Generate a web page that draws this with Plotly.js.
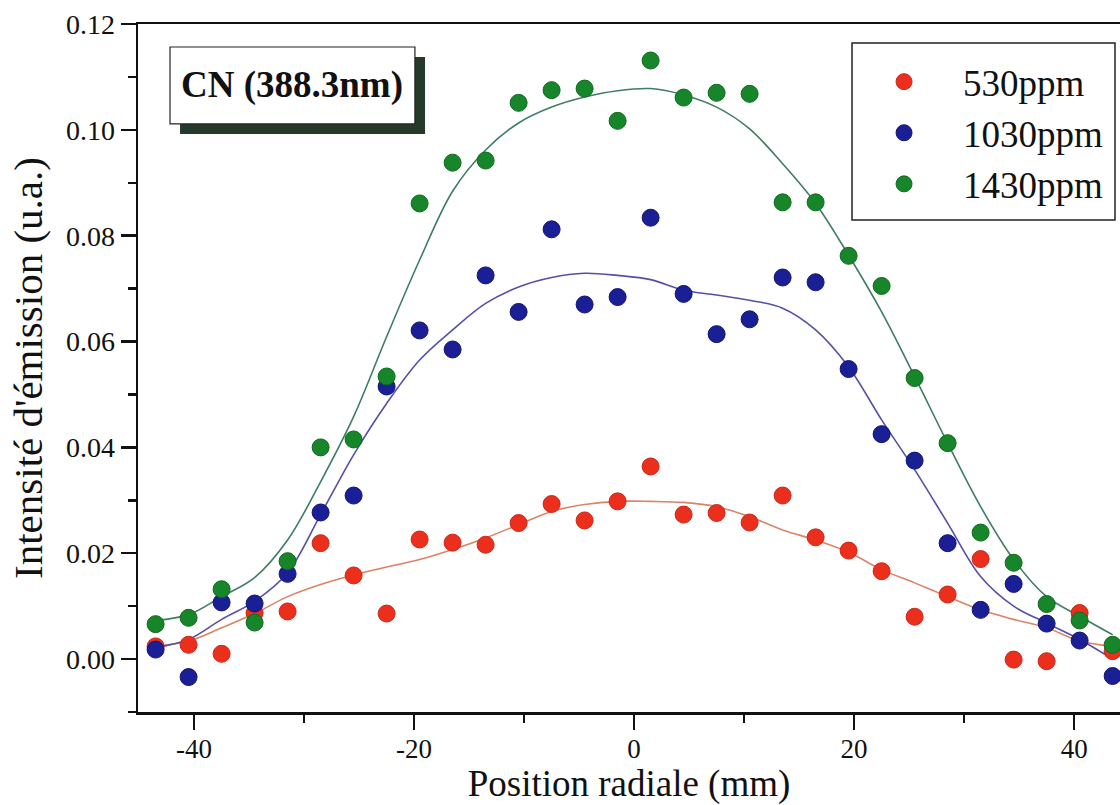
<!DOCTYPE html>
<html>
<head>
<meta charset="utf-8">
<script src="https://cdn.plot.ly/plotly-3.0.1.min.js"></script>
<style>html,body{margin:0;padding:0;background:#fff;}#chart{width:1120px;height:805px;}</style>
</head>
<body>
<div id="chart"></div>
<script>
var positions = [-43.5,-40.5,-37.5,-34.5,-31.5,-28.5,-25.5,-22.5,-19.5,-16.5,-13.5,-10.5,-7.5,-4.5,-1.5,
                 1.5,4.5,7.5,10.5,13.5,16.5,19.5,22.5,25.5,28.5,31.5,34.5,37.5,40.5,43.5];
var seriesNames = ["530ppm", "1030ppm", "1430ppm"];

var ppm530 = [0.0024,0.0027,0.0010,0.0087,0.0090,0.0219,0.0158,0.0086,0.0226,0.0220,0.0216,0.0257,0.0293,0.0262,0.0298,
              0.0364,0.0273,0.0276,0.0258,0.0309,0.0230,0.0205,0.0166,0.0080,0.0122,0.0189,-0.0001,-0.0004,0.0087,0.0015];
var ppm1030 = [0.0018,-0.0034,0.0107,0.0105,0.0161,0.0277,0.0309,0.0515,0.0621,0.0585,0.0725,0.0656,0.0812,0.0670,0.0684,
               0.0834,0.0690,0.0614,0.0642,0.0721,0.0712,0.0548,0.0425,0.0375,0.0219,0.0093,0.0142,0.0067,0.0035,-0.0032];
var ppm1430 = [0.0066,0.0078,0.0132,0.0069,0.0185,0.0400,0.0415,0.0534,0.0861,0.0938,0.0942,0.1051,0.1075,0.1078,0.1017,
               0.1131,0.1061,0.1070,0.1068,0.0863,0.0863,0.0762,0.0705,0.0531,0.0408,0.0239,0.0182,0.0104,0.0073,0.0027];

var fit530 = [0.0024,0.0034,0.0059,0.0086,0.0118,0.0141,0.0159,0.0174,0.0188,0.0207,0.0229,0.0254,0.0279,0.0292,0.0298,
              0.0298,0.0296,0.0288,0.0269,0.0244,0.0225,0.0202,0.0169,0.0144,0.0118,0.0093,0.0075,0.0059,0.0034,0.0024];
var fit1030 = [0.0022,0.0037,0.0075,0.0109,0.0163,0.0273,0.0386,0.0483,0.0565,0.0622,0.0672,0.0703,0.0721,0.0729,0.0725,
               0.0717,0.0697,0.0688,0.0678,0.0663,0.0622,0.0552,0.0452,0.0358,0.0257,0.0156,0.0100,0.0068,0.0037,0.0000];
var fit1430 = [0.0073,0.0084,0.0118,0.0154,0.0225,0.0335,0.0458,0.0609,0.0754,0.0884,0.0962,0.1013,0.1043,0.1062,0.1074,
               0.1078,0.1066,0.1043,0.1002,0.0936,0.0861,0.0763,0.0656,0.0534,0.0408,0.0288,0.0188,0.0118,0.0081,0.0046];

var xTickVals = [-40, -20, 0, 20, 40];
var xTickText = ["-40", "-20", "0", "20", "40"];
var yTickVals = [0, 0.02, 0.04, 0.06, 0.08, 0.10, 0.12];
var yTickText = ["0.00", "0.02", "0.04", "0.06", "0.08", "0.10", "0.12"];

var markerColors = ["#ec2f1c", "#1a1f96", "#17862a"];
var markerEdges = ["#c8281a", "#121670", "#0f6a1f"];
var lineColors = ["#d98464", "#5550a6", "#3f7d60"];
var values = [ppm530, ppm1030, ppm1430];
var fits = [fit530, fit1030, fit1430];

var traces = [];
for (var i = 0; i < 3; i++) {
  traces.push({
    x: positions, y: fits[i], type: "scatter", mode: "lines",
    line: {color: lineColors[i], width: 1.6, shape: "spline", smoothing: 1},
    showlegend: false, hoverinfo: "skip"
  });
}
for (var j = 0; j < 3; j++) {
  traces.push({
    x: positions, y: values[j], type: "scatter", mode: "markers", name: seriesNames[j],
    marker: {color: markerColors[j], size: 17, line: {color: markerEdges[j], width: 1}}
  });
}

var serif = "Liberation Serif, Times New Roman, serif";
var layout = {
  width: 1120, height: 805,
  paper_bgcolor: "#ffffff", plot_bgcolor: "#ffffff",
  margin: {l: 138, r: 0, t: 24, b: 93},
  font: {family: serif, color: "#111"},
  xaxis: {
    range: [-45.1, 44.17], showgrid: false, zeroline: false,
    showline: true, linecolor: "#111", linewidth: 2.5, mirror: true,
    ticks: "outside", ticklen: 15, tickwidth: 2.5, tickcolor: "#111",
    tickvals: xTickVals, ticktext: xTickText, ticklabelstandoff: -4,
    tickfont: {family: serif, size: 27, color: "#111"},
    minor: {ticks: "outside", ticklen: 8, tickwidth: 2.5, tickcolor: "#111", dtick: 10, tick0: 0, showgrid: false},
    title: {text: "Position radiale (mm)", font: {family: serif, size: 37, color: "#111"}, standoff: 10},
    automargin: false
  },
  yaxis: {
    range: [-0.01, 0.12], showgrid: false, zeroline: false,
    showline: true, linecolor: "#111", linewidth: 2.5, mirror: false,
    ticks: "outside", ticklen: 15, tickwidth: 2.5, tickcolor: "#111",
    tickvals: yTickVals, ticktext: yTickText,
    tickfont: {family: serif, size: 28, color: "#111"},
    minor: {ticks: "outside", ticklen: 8, tickwidth: 2.5, tickcolor: "#111", dtick: 0.01, tick0: 0, showgrid: false},
    title: {text: "Intensité d'émission (u.a.)", font: {family: serif, size: 41, color: "#111"}, standoff: 11},
    automargin: false
  },
  legend: {
    x: 0.72, y: 0.9606, xanchor: "left", yanchor: "top",
    bgcolor: "rgba(0,0,0,0)", borderwidth: 0,
    font: {family: serif, size: 37, color: "#111"},
    itemwidth: 108, tracegroupgap: 0
  },
  shapes: [
    {type: "rect", xref: "paper", yref: "paper", x0: 0.0428, x1: 0.2923, y0: 0.8401, y1: 0.952,
     fillcolor: "#263a2c", line: {width: 0}, layer: "above"},
    {type: "rect", xref: "paper", yref: "paper", x0: 0.0326, x1: 0.282, y0: 0.8547, y1: 0.9666,
     fillcolor: "#ffffff", line: {color: "#222", width: 1.2}, layer: "above"},
    {type: "rect", xref: "paper", yref: "paper", x0: 0.7271, x1: 0.9949, y0: 0.7151, y1: 0.9724,
     fillcolor: "#ffffff", line: {color: "#222", width: 1.5}, layer: "above"}
  ],
  annotations: [
    {xref: "paper", yref: "paper", x: 0.157, y: 0.911, xanchor: "center", yanchor: "middle",
     text: "<b>CN (388.3nm)</b>", showarrow: false,
     font: {family: serif, size: 37, color: "#111"}}
  ]
};

Plotly.newPlot("chart", traces, layout, {displayModeBar: false, staticPlot: true});
</script>
</body>
</html>
